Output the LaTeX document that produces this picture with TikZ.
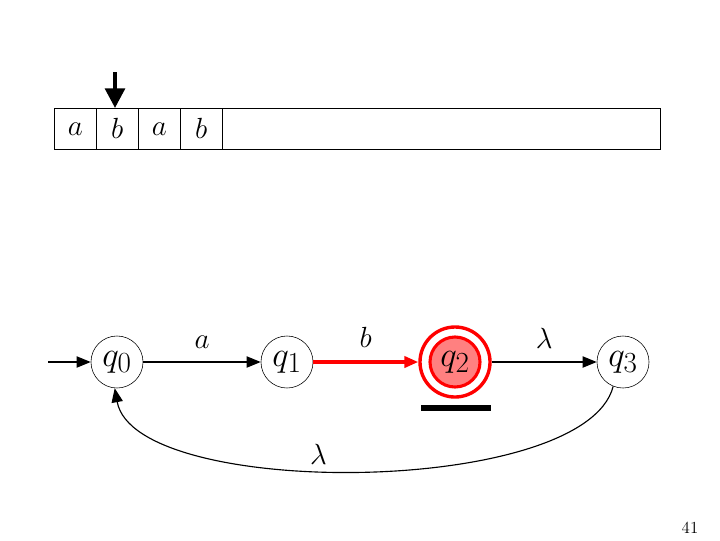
\documentclass[tikz,border=0pt]{standalone}
\usepackage{amsmath}
\usetikzlibrary{arrows.meta,calc,positioning}

\begin{document}
\begin{tikzpicture}[
  x=0.025cm, y=-0.025cm,
  >={Triangle[length=10pt,width=8pt]},
  cell/.style={draw, minimum width=1.05cm, minimum height=1.025cm, inner sep=0pt,
               font=\huge, anchor=north west},
  state/.style={draw, circle, minimum size=1.3cm, inner sep=0pt, font=\fontsize{31}{33}\selectfont},
  final/.style={draw=red, line width=2.2pt, circle, fill=red!50,
                minimum size=1.25cm, inner sep=0pt, font=\fontsize{31}{33}\selectfont},
  lbl/.style={font=\huge},
  arr/.style={->, thick},
  redarr/.style={->, red, line width=2.4pt},
]
\useasboundingbox (0,0) rectangle (720,540);

%% ═══ TAPE ═════════════════════════════════════════════════════════════
\node[draw, minimum width=15.15cm, minimum height=1.025cm, anchor=north west] (tape) at (54,108) {};
\node[cell] (c1) at (54,108)  {$a$};
\node[cell] (c2) at (96,108)  {$b$};
\node[cell] (c3) at (138,108) {$a$};
\node[cell] (c4) at (180,108) {$b$};

% read head
\coordinate (head) at (115,72);
\draw[line width=2.8pt, -{Triangle[length=14pt,width=14pt]}] (head) -- (c2.north -| head);

%% ═══ AUTOMATON ════════════════════════════════════════════════════════
\node[state] (q0) at (117,362) {$q_0$};
\node[state] (q1) at (287,362) {$q_1$};
\node[final] (q2) at (455,362) {$q_2$};
\node[circle, draw=red, line width=2.4pt, minimum size=1.75cm] (q2o) at (455,362) {};
\node[state] (q3) at (623,362) {$q_3$};

\coordinate (start) at (48,362);

% forward arrows
\draw[arr] (start) -- (q0);
\draw[arr] (q0) -- node[lbl, above=6pt]{$a$} (q1);
\draw[redarr] (q1) -- node[lbl, above=6pt, black]{$b$} (q2o);
\draw[arr] (q2o) -- node[lbl, above=6pt]{$\lambda$} (q3);

% back to the start
\draw[arr] (q3.-112) .. controls (585,497) and (135,500) .. node[lbl, above, pos=0.56]{$\lambda$} (q0.-95);

% bar under q2
\coordinate (barl) at (421,408);
\coordinate (barr) at (491,408);
\draw[line width=4pt] (barl) -- (barr);

%% page number
\node[font=\large] (page) at (690,528) {41};

\end{tikzpicture}
\end{document}
